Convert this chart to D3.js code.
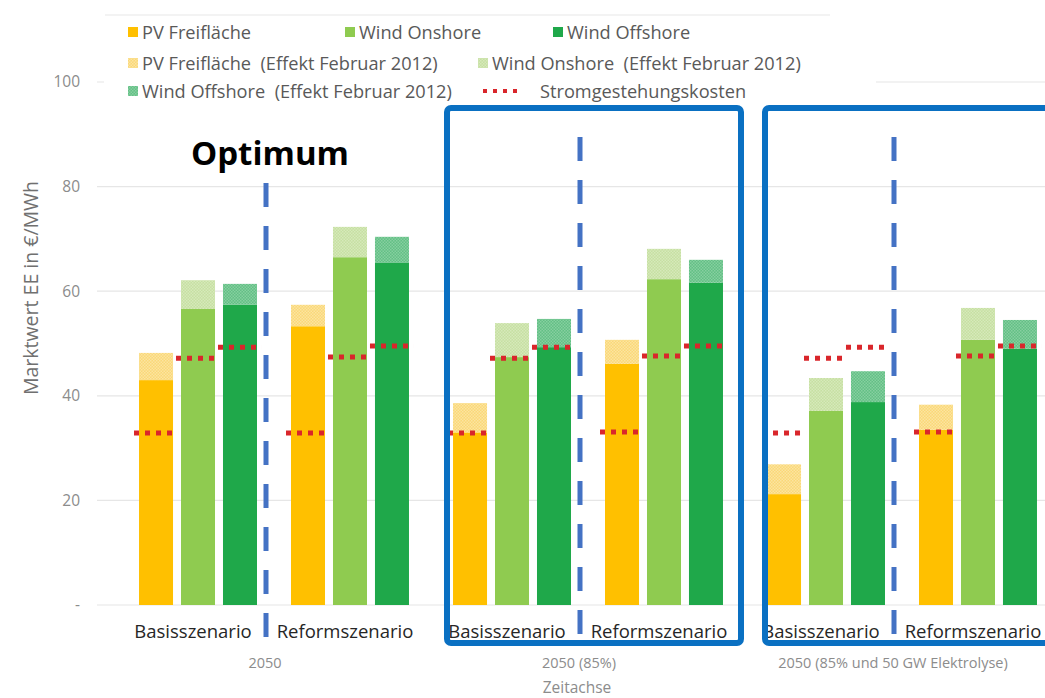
<!DOCTYPE html>
<html>
<head>
<meta charset="utf-8">
<script src="https://cdn.jsdelivr.net/npm/d3@7/dist/d3.min.js"></script>
<style>
  html, body { margin: 0; padding: 0; background: #ffffff; }
  svg { display: block; }
  text { font-family: "Open Sans", "Noto Sans", sans-serif; white-space: pre; }
</style>
</head>
<body>
<svg id="chart" width="1045" height="698"></svg>
<script>
// ---------------- data ----------------
const groups = ["2050", "2050 (85%)", "2050 (85% und 50 GW Elektrolyse)"];
const scenarios = ["Basisszenario", "Reformszenario"];
const technologies = ["PV Freifläche", "Wind Onshore", "Wind Offshore"];
const yTicks = [0, 20, 40, 60, 80, 100];
const yTickLabels = ["-", "20", "40", "60", "80", "100"];

// order: 2050 Basis, 2050 Reform, 85% Basis, 85% Reform, 85%+EL Basis, 85%+EL Reform
const pvBase     = [43.0, 53.3, 33.0, 46.1, 21.2, 33.5];
const pvTotal    = [48.2, 57.4, 38.6, 50.7, 26.9, 38.3];
const onBase     = [56.6, 66.5, 47.4, 62.3, 37.1, 50.7];
const onTotal    = [62.1, 72.3, 53.9, 68.1, 43.4, 56.8];
const offBase    = [57.4, 65.4, 49.3, 61.6, 38.8, 49.0];
const offTotal   = [61.4, 70.4, 54.7, 66.0, 44.7, 54.5];
const pvCost     = [32.9, 32.9, 32.9, 33.1, 32.9, 33.1];
const onCost     = [47.2, 47.4, 47.2, 47.6, 47.2, 47.6];
const offCost    = [49.3, 49.5, 49.3, 49.5, 49.3, 49.5];

const legendRow1 = ["PV Freifläche", "Wind Onshore", "Wind Offshore"];
const legendRow2 = ["PV Freifläche  (Effekt Februar 2012)", "Wind Onshore  (Effekt Februar 2012)"];
const legendRow3 = ["Wind Offshore  (Effekt Februar 2012)", "Stromgestehungskosten"];
const yTitle = "Marktwert EE in €/MWh";
const xTitle = "Zeitachse";
const annotation = "Optimum";

// ---------------- styling ----------------
const baseColors = ["#FFC000", "#8FCB50", "#1FA84A"];
const effectA = ["#FAD878", "#C6E0A2", "#62C085"];
const effectB = ["#FCE4A0", "#D6E9BA", "#86CFA0"];
const costColor = "#D9262B";
const dividerColor = "#4472C4";
const boxColor = "#0A70C2";

const svg = d3.select("#chart");
const defs = svg.append("defs");
technologies.forEach((t, i) => {
  const p = defs.append("pattern").attr("id", "pat" + i)
    .attr("patternUnits", "userSpaceOnUse").attr("width", 3).attr("height", 3);
  p.append("rect").attr("width", 3).attr("height", 3).attr("fill", effectA[i]);
  p.append("rect").attr("width", 1.5).attr("height", 1.5).attr("fill", effectB[i]);
  p.append("rect").attr("x", 1.5).attr("y", 1.5).attr("width", 1.5).attr("height", 1.5).attr("fill", effectB[i]);
});

// ---------------- scales ----------------
const y = d3.scaleLinear().domain([0, 100]).range([605, 82]);
const xGroup = d3.scaleBand().domain(groups).range([117, 1059]).padding(0);
const xScen = d3.scaleBand().domain(scenarios).range([0, xGroup.bandwidth()]).paddingInner(0).paddingOuter(0.033);
const xTech = d3.scaleBand().domain(technologies).range([0, xScen.bandwidth()]).paddingInner(0.19).paddingOuter(0.405);

const records = [];
groups.forEach((g, gi) => scenarios.forEach((s, si) => {
  const k = gi * 2 + si;
  const bases = [pvBase[k], onBase[k], offBase[k]];
  const totals = [pvTotal[k], onTotal[k], offTotal[k]];
  const costs = [pvCost[k], onCost[k], offCost[k]];
  technologies.forEach((t, ti) => records.push({g, s, t, ti, base: bases[ti], total: totals[ti], cost: costs[ti]}));
}));
const bx = d => xGroup(d.g) + xScen(d.s) + xTech(d.t);

// ---------------- gridlines ----------------
const grid = svg.append("g");
grid.selectAll("line").data(yTicks).join("line")
  .attr("x1", 97).attr("x2", 1045)
  .attr("y1", d => y(d)).attr("y2", d => y(d))
  .attr("stroke", "#e6e6e6").attr("stroke-width", 1.2);

// y axis labels
const yAxis = d3.axisLeft(y).tickValues(yTicks).tickFormat((d, i) => yTickLabels[i]).tickSize(0).tickPadding(0);
const ya = svg.append("g").attr("transform", "translate(80,0)").call(yAxis);
ya.select(".domain").remove();
ya.selectAll("text").attr("fill", "#8c8c8c").attr("font-size", 15.5).attr("font-family", "Open Sans, sans-serif");

svg.append("text").attr("transform", "translate(33,288) rotate(-90)")
  .attr("text-anchor", "middle").attr("dominant-baseline", "middle")
  .attr("font-size", 19.5).attr("fill", "#707070").text(yTitle);

// legend background (covers the top gridline like the original legend box)
svg.append("rect").attr("x", 104).attr("y", 15).attr("width", 772).attr("height", 88).attr("fill", "#ffffff");
svg.append("line").attr("x1", 105).attr("x2", 830).attr("y1", 15).attr("y2", 15)
  .attr("stroke", "#efefef").attr("stroke-width", 1.5);

// ---------------- bars ----------------
const bars = svg.append("g");
bars.selectAll("rect.base").data(records).join("rect").attr("class", "base")
  .attr("x", bx).attr("width", xTech.bandwidth())
  .attr("y", d => y(d.base)).attr("height", d => y(0) - y(d.base))
  .attr("fill", d => baseColors[d.ti]);
bars.selectAll("rect.eff").data(records).join("rect").attr("class", "eff")
  .attr("x", bx).attr("width", xTech.bandwidth())
  .attr("y", d => y(d.total)).attr("height", d => y(d.base) - y(d.total))
  .attr("fill", d => "url(#pat" + d.ti + ")");

// cost lines
bars.selectAll("line.cost").data(records).join("line").attr("class", "cost")
  .attr("x1", d => bx(d) - 5).attr("x2", d => bx(d) + xTech.bandwidth() + 5)
  .attr("y1", d => y(d.cost)).attr("y2", d => y(d.cost))
  .attr("stroke", costColor).attr("stroke-width", 5).attr("stroke-dasharray", "5,6");

// dividers between scenarios
const divStart = [183, 137, 137];
svg.append("g").selectAll("line").data(groups).join("line")
  .attr("x1", d => xGroup(d) + xGroup.bandwidth() / 2 - 8)
  .attr("x2", d => xGroup(d) + xGroup.bandwidth() / 2 - 8)
  .attr("y1", (d, i) => divStart[i]).attr("y2", 637)
  .attr("stroke", dividerColor).attr("stroke-width", 5).attr("stroke-dasharray", "24,19");

// category labels
const catG = svg.append("g");
groups.forEach(g => scenarios.forEach(s => {
  catG.append("text").attr("x", xGroup(g) + xScen(s) + xScen.bandwidth() / 2 - 5).attr("y", 638)
    .attr("text-anchor", "middle").attr("font-size", 18.5).attr("fill", "#262626").text(s);
}));
svg.append("g").selectAll("text").data(groups).join("text")
  .attr("x", d => xGroup(d) + xGroup.bandwidth() / 2 - 9).attr("y", 668)
  .attr("text-anchor", "middle").attr("font-size", 14.5).attr("fill", "#8c8c8c").text(d => d);
svg.append("text").attr("x", 577).attr("y", 693).attr("text-anchor", "middle")
  .attr("font-size", 15.5).attr("fill", "#8c8c8c").text(xTitle);

// annotation boxes
const boxOffset = [0, 16, 20];
const boxWidth = [0, 294, 320];
const boxes = svg.append("g");
[1, 2].forEach(gi => {
  const g = groups[gi];
  boxes.append("rect").attr("x", xGroup(g) + boxOffset[gi]).attr("y", 108)
    .attr("width", boxWidth[gi]).attr("height", 535)
    .attr("rx", 4).attr("fill", "none").attr("stroke", boxColor).attr("stroke-width", 6);
});
svg.append("text").attr("x", 270).attr("y", 165).attr("text-anchor", "middle")
  .attr("font-family", "Liberation Sans, Arial, sans-serif").attr("font-weight", "bold")
  .attr("font-size", 33).attr("fill", "#000").text(annotation);

// ---------------- legend ----------------
const lg = svg.append("g").attr("font-size", 18.2).attr("fill", "#595959");
function swatch(x, yy, fill) {
  lg.append("rect").attr("x", x).attr("y", yy - 5).attr("width", 10).attr("height", 10).attr("fill", fill);
}
function label(x, yy, txt) {
  lg.append("text").attr("x", x).attr("y", yy).attr("dominant-baseline", "central").attr("fill", "#595959").text(txt);
}
const r1x = [128, 345, 553];
legendRow1.forEach((t, i) => { swatch(r1x[i], 32, baseColors[i]); label(r1x[i] + 14, 32, t); });
const r2x = [128, 478];
legendRow2.forEach((t, i) => { swatch(r2x[i], 63, "url(#pat" + i + ")"); label(r2x[i] + 14, 63, t); });
swatch(128, 91, "url(#pat2)"); label(142, 91, legendRow3[0]);
lg.append("line").attr("x1", 483).attr("x2", 522).attr("y1", 91).attr("y2", 91)
  .attr("stroke", costColor).attr("stroke-width", 4).attr("stroke-dasharray", "4,6");
label(540, 91, legendRow3[1]);
</script>
</body>
</html>
